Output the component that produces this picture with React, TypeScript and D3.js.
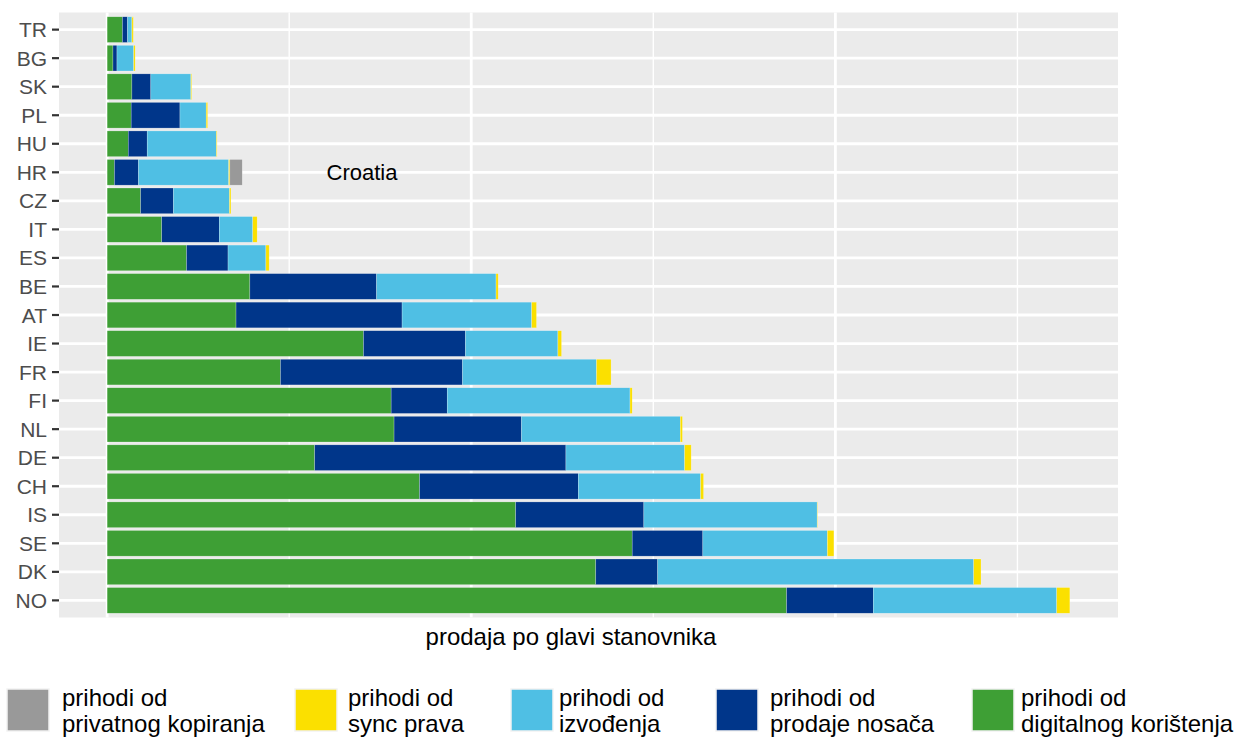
import React from "react";
import * as d3 from "d3";

const countries = ["TR","BG","SK","PL","HU","HR","CZ","IT","ES","BE","AT","IE","FR","FI","NL","DE","CH","IS","SE","DK","NO"];
const digital =     [0.21,0.08,0.34,0.33,0.29,0.10,0.46,0.75,1.09,1.96,1.77,3.52,2.38,3.90,3.94,2.85,4.29,5.61,7.21,6.71,9.33];
const physical =    [0.07,0.055,0.26,0.67,0.26,0.33,0.45,0.79,0.57,1.74,2.28,1.40,2.50,0.77,1.75,3.45,2.18,1.76,0.97,0.85,1.19];
const performance = [0.06,0.23,0.55,0.36,0.95,1.24,0.77,0.46,0.52,1.64,1.78,1.27,1.84,2.51,2.18,1.63,1.68,2.38,1.71,4.34,2.52];
const sync =        [0.02,0.02,0.01,0.02,0.01,0.015,0.02,0.06,0.045,0.03,0.066,0.05,0.20,0.03,0.03,0.09,0.04,0.005,0.09,0.10,0.18];
const privateCopy = [0,0,0,0,0,0.17,0,0,0,0,0,0,0,0,0,0,0,0,0,0,0];

const seriesKeys = ["digital","physical","performance","sync","privateCopy"];
const seriesColors = ["#3E9F35","#00368A","#4FBFE4","#FBE000","#999999"];
const legendOrder = ["privateCopy","sync","performance","physical","digital"];
const legendLabels = [
  ["prihodi od","privatnog kopiranja"],
  ["prihodi od","sync prava"],
  ["prihodi od","izvođenja"],
  ["prihodi od","prodaje nosača"],
  ["prihodi od","digitalnog korištenja"],
];
const majorTicks = [0,5,10];
const minorTicks = [2.5,7.5,12.5];
const xTitle = "prodaja po glavi stanovnika";
const annotation = { country: "HR", x: 3.5, label: "Croatia" };

const FONT = "'Liberation Sans', Arial, sans-serif";

export default function App() {
  const W = 1239, H = 738;
  const panel = { left: 59, right: 1118, top: 12.5, bottom: 617.5 };

  const rows = countries.map((c, i) => ({
    country: c,
    digital: digital[i],
    physical: physical[i],
    performance: performance[i],
    sync: sync[i],
    privateCopy: privateCopy[i],
  }));
  const stacked = d3.stack<any>().keys(seriesKeys)(rows);
  const maxTotal = d3.max(rows, (r) => r.digital + r.physical + r.performance + r.sync + r.privateCopy) as number;
  const expand = maxTotal * 0.05;
  const x = d3.scaleLinear().domain([0 - expand, maxTotal + expand]).range([panel.left, panel.right]);
  const n = countries.length;
  const yPos = d3.scaleLinear().domain([0.4, n + 0.6]).range([panel.top, panel.bottom]);
  const yc = (c: string) => yPos(countries.indexOf(c) + 1);
  const bandH = yPos(1.9) - yPos(1);

  const legendKeyX = [7, 295, 511, 716, 972];
  const legendTextX = [62, 348, 559, 770, 1021];

  return (
    <svg width={W} height={H} style={{ position: "absolute", left: 0, top: 0 }} fontFamily={FONT}>
      <rect x={0} y={0} width={W} height={H} fill="#ffffff" />
      <rect x={panel.left} y={panel.top} width={panel.right - panel.left} height={panel.bottom - panel.top} fill="#EBEBEB" />
      {minorTicks.map((t) => (
        <line key={"mi" + t} x1={x(t)} x2={x(t)} y1={panel.top} y2={panel.bottom} stroke="#ffffff" strokeWidth={1.4} />
      ))}
      {majorTicks.map((t) => (
        <line key={"ma" + t} x1={x(t)} x2={x(t)} y1={panel.top} y2={panel.bottom} stroke="#ffffff" strokeWidth={2.8} />
      ))}
      {countries.map((c) => (
        <line key={"hg" + c} x1={panel.left} x2={panel.right} y1={yc(c)} y2={yc(c)} stroke="#ffffff" strokeWidth={2.8} />
      ))}
      {stacked.map((s, si) => (
        <g key={s.key} fill={seriesColors[si]}>
          {s.map((d: any, i: number) => {
            const w = x(d[1]) - x(d[0]);
            if (w <= 0) return null;
            return (
              <rect
                key={i}
                x={x(d[0])}
                y={yc(countries[i]) - bandH / 2}
                width={w}
                height={bandH}
                stroke="#ffffff"
                strokeOpacity={0.45}
                strokeWidth={0.5}
              />
            );
          })}
        </g>
      ))}
      <text x={x(annotation.x)} y={yc(annotation.country)} fontSize={22} textAnchor="middle" dominantBaseline="central" fill="#000000">
        {annotation.label}
      </text>
      {countries.map((c) => (
        <g key={"yt" + c}>
          <line x1={panel.left - 7} x2={panel.left} y1={yc(c)} y2={yc(c)} stroke="#333333" strokeWidth={2.2} />
          <text x={panel.left - 12} y={yc(c)} fontSize={21} textAnchor="end" dominantBaseline="central" fill="#4D4D4D">
            {c}
          </text>
        </g>
      ))}
      <text x={571} y={645} fontSize={24} textAnchor="middle" fill="#000000">{xTitle}</text>
      {legendOrder.map((k, i) => {
        const ci = seriesKeys.indexOf(k);
        return (
          <g key={"lg" + k}>
            <rect x={legendKeyX[i]} y={689} width={42} height={42} fill={seriesColors[ci]} stroke="#F2F2F2" strokeWidth={1.5} />
            <text x={legendTextX[i]} fontSize={24} fill="#000000">
              <tspan x={legendTextX[i]} y={706}>{legendLabels[i][0]}</tspan>
              <tspan x={legendTextX[i]} y={732}>{legendLabels[i][1]}</tspan>
            </text>
          </g>
        );
      })}
    </svg>
  );
}
